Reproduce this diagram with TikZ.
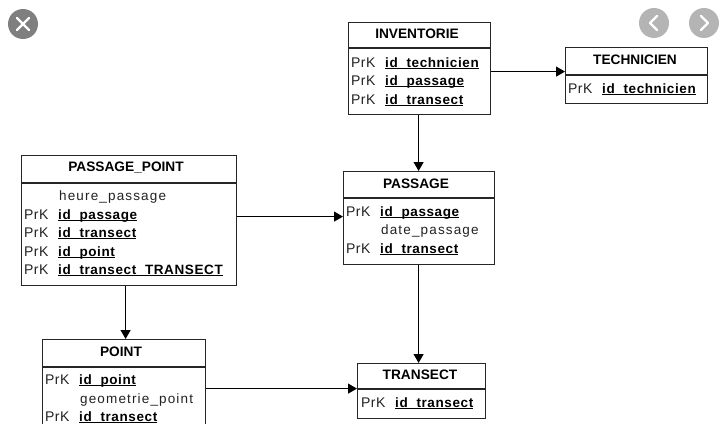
\documentclass[tikz,border=0pt]{standalone}
\usepackage{fontspec}
\setmainfont{Liberation Sans}
\usetikzlibrary{arrows.meta}
\definecolor{closegrey}{HTML}{7F7F7F}
\definecolor{navgrey}{HTML}{B4B4B4}
\definecolor{txtgrey}{HTML}{222222}
\newcommand{\keyname}[1]{\underline{\smash{#1}}}
\tikzset{
  x=1pt,y=-1pt,
  entity/.style={draw=black!85,line width=1.2pt,fill=white,inner sep=0pt,anchor=north west},
  title/.style={font=\fontsize{13.7}{15}\selectfont\bfseries,inner sep=0pt,text=black},
  prk/.style={font=\fontsize{14}{15}\selectfont\addfontfeature{LetterSpace=3},inner sep=0pt,anchor=base west,text=txtgrey},
  keyattr/.style={font=\fontsize{13.5}{15}\selectfont\bfseries\addfontfeature{LetterSpace=4.5},inner sep=0pt,anchor=base west,text=black},
  plainattr/.style={font=\fontsize{13.5}{15}\selectfont\addfontfeature{LetterSpace=8.5},inner sep=0pt,anchor=base west,text=txtgrey},
  rule/.style={draw=black!85,line width=1.1pt},
  link/.style={draw=black,line width=1.1pt,-{Triangle[length=9pt,width=10pt]}},
  navbtn/.style={circle,fill=navgrey,minimum size=30pt,inner sep=0pt},
  closebtn/.style={circle,fill=closegrey,minimum size=30pt,inner sep=0pt},
  glyph/.style={draw=white,line width=2.2pt,line cap=round,line join=round}
}
\begin{document}
\begin{tikzpicture}
\useasboundingbox (0,0) rectangle (720,423);
\clip (0,0) rectangle (720,423);
\fill[white] (0,0) rectangle (720,423);

% entity boxes
\node[entity,minimum width=142pt,minimum height=92pt] (inv) at (348,22) {};
\node[entity,minimum width=142pt,minimum height=56pt] (tech) at (565,47) {};
\node[entity,minimum width=215pt,minimum height=130pt] (pp) at (21,155) {};
\node[entity,minimum width=151pt,minimum height=93pt] (pass) at (343,171) {};
\node[entity,minimum width=163pt,minimum height=98pt] (pt) at (42,339) {};
\node[entity,minimum width=128pt,minimum height=55pt] (tr) at (357,363) {};

% header rules
\draw[rule] (348,48) -- (490,48);
\draw[rule] (565,75) -- (707,75);
\draw[rule] (21,183) -- (236,183);
\draw[rule] (343,198) -- (494,198);
\draw[rule] (42,367) -- (205,367);
\draw[rule] (357,389) -- (485,389);

% titles
\node[title] (invT) at (417,34) {INVENTORIE};
\node[title] (techT) at (635,60) {TECHNICIEN};
\node[title] (ppT) at (126,168) {PASSAGE\_POINT};
\node[title] (passT) at (416,184) {PASSAGE};
\node[title] (ptT) at (121,352) {POINT};
\node[title] (trT) at (420,375) {TRANSECT};

% INVENTORIE rows
\node[prk] (i1p) at (351,67) {PrK};
\node[keyattr] (i1) at (385,67) {\keyname{id\_technicien}};
\node[prk] (i2p) at (351,85) {PrK};
\node[keyattr] (i2) at (385,85) {\keyname{id\_passage}};
\node[prk] (i3p) at (351,104) {PrK};
\node[keyattr] (i3) at (385,104) {\keyname{id\_transect}};

% TECHNICIEN rows
\node[prk] (t1p) at (568,93) {PrK};
\node[keyattr] (t1) at (602,93) {\keyname{id\_technicien}};

% PASSAGE_POINT rows
\node[plainattr] (p0) at (59,200) {heure\_passage};
\node[prk] (p1p) at (24,219) {PrK};
\node[keyattr] (p1) at (58,219) {\keyname{id\_passage}};
\node[prk] (p2p) at (24,237) {PrK};
\node[keyattr] (p2) at (58,237) {\keyname{id\_transect}};
\node[prk] (p3p) at (24,256) {PrK};
\node[keyattr] (p3) at (58,256) {\keyname{id\_point}};
\node[prk] (p4p) at (24,274) {PrK};
\node[keyattr] (p4) at (58,274) {\keyname{id\_transect\_TRANSECT}};

% PASSAGE rows
\node[prk] (a1p) at (346,216) {PrK};
\node[keyattr] (a1) at (380,216) {\keyname{id\_passage}};
\node[plainattr] (a2) at (381,234) {date\_passage};
\node[prk] (a3p) at (346,253) {PrK};
\node[keyattr] (a3) at (380,253) {\keyname{id\_transect}};

% POINT rows
\node[prk] (o1p) at (45,384) {PrK};
\node[keyattr] (o1) at (79,384) {\keyname{id\_point}};
\node[plainattr] (o2) at (80,403) {geometrie\_point};
\node[prk] (o3p) at (45,421) {PrK};
\node[keyattr] (o3) at (79,421) {\keyname{id\_transect}};

% TRANSECT rows
\node[prk] (r1p) at (361,407) {PrK};
\node[keyattr] (r1) at (395,407) {\keyname{id\_transect}};

% connectors
\draw[link] ([yshift=-3pt]inv.east) -- ([yshift=-3pt]inv.east -| tech.west);
\draw[link] ([xshift=-1pt]inv.south) -- ([xshift=-1pt]inv.south |- pass.north);
\draw[link] ([yshift=4pt]pp.east) -- ([yshift=4pt]pp.east -| pass.west);
\draw[link] ([xshift=-3.5pt]pp.south) -- ([xshift=-3.5pt]pp.south |- pt.north);
\draw[link] ([xshift=-0.5pt]pass.south) -- ([xshift=-0.5pt]pass.south |- tr.north);
\draw[link] (pt.east) -- (pt.east -| tr.west);

% viewer buttons
\node[closebtn] (closeB) at (23,24) {};
\draw[glyph] (17,18) -- (29,30) (29,18) -- (17,30);
\node[navbtn] (prevB) at (654,23) {};
\draw[glyph] (657,16) -- (650,23) -- (657,30);
\node[navbtn] (nextB) at (704,23) {};
\draw[glyph] (701,16) -- (708,23) -- (701,30);
\end{tikzpicture}
\end{document}
